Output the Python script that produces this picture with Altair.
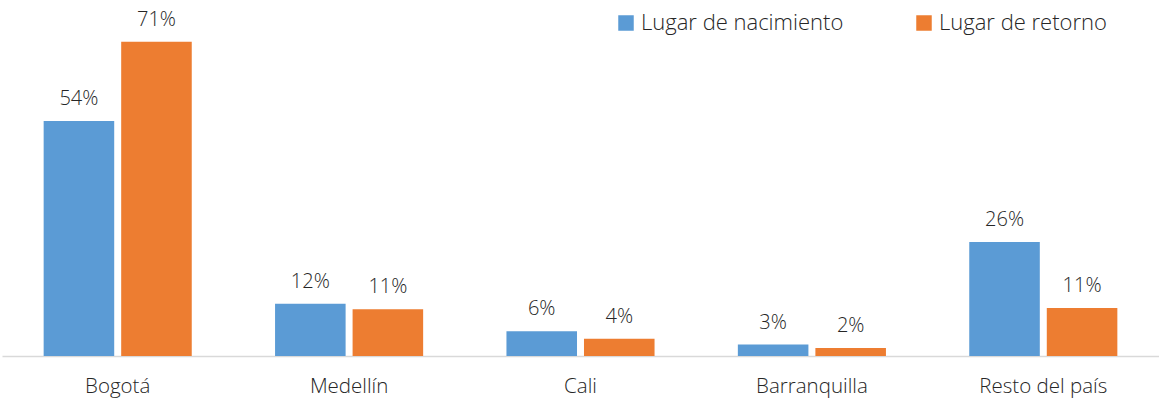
import altair as alt
import pandas as pd

categories = ["Bogotá", "Medellín", "Cali", "Barranquilla", "Resto del país"]
series = ["Lugar de nacimiento", "Lugar de retorno"]
nacimiento = [53.4, 11.9, 5.6, 2.6, 25.9]
retorno = [71.4, 10.6, 3.9, 1.8, 10.9]
labels_nac = ["54%", "12%", "6%", "3%", "26%"]
labels_ret = ["71%", "11%", "4%", "2%", "11%"]
colors = ["#5B9BD5", "#ED7D31"]

rows = []
for i, c in enumerate(categories):
    rows.append({"cat": c, "serie": series[0], "v": nacimiento[i], "lab": labels_nac[i]})
    rows.append({"cat": c, "serie": series[1], "v": retorno[i], "lab": labels_ret[i]})
df = pd.DataFrame(rows)

FONT = "Open Sans"

x = alt.X("cat:N", sort=categories, title=None,
          scale=alt.Scale(paddingInner=0.36, paddingOuter=0.18),
          axis=alt.Axis(labelAngle=0, ticks=False, domainColor="#D9D9D9", domainWidth=1.5,
                        labelFontSize=20.5, labelColor="#262626", labelFont=FONT,
                        labelFontWeight=300, labelPadding=20))
xo = alt.XOffset("serie:N", sort=series, scale=alt.Scale(paddingInner=0.09))
y = alt.Y("v:Q", scale=alt.Scale(domain=[0, 80]), axis=None)

bars = alt.Chart(df).mark_bar().encode(
    x=x, xOffset=xo, y=y,
    color=alt.Color("serie:N", sort=series, scale=alt.Scale(domain=series, range=colors),
                    legend=alt.Legend(title=None, orient="none", legendX=613, legendY=8,
                                      direction="horizontal", symbolType="square",
                                      symbolSize=240, symbolStrokeWidth=0,
                                      labelFontSize=22, labelFont=FONT, labelFontWeight=300,
                                      labelColor="#262626", columnPadding=69,
                                      labelOffset=4, labelLimit=400)),
)

text = alt.Chart(df).mark_text(baseline="bottom", dy=-12, fontSize=20, font=FONT,
                               fontWeight=300, color="#262626").encode(
    x=x, xOffset=xo, y=y, text="lab:N"
)

chart = (bars + text).properties(
    width=1157, height=352,
    padding={"left": 2, "right": 0, "top": 4, "bottom": 46},
    autosize=alt.AutoSizeParams(type="none"),
).configure_view(stroke=None)

chart.save("out.html", embed_options={"renderer": "svg", "actions": False})
